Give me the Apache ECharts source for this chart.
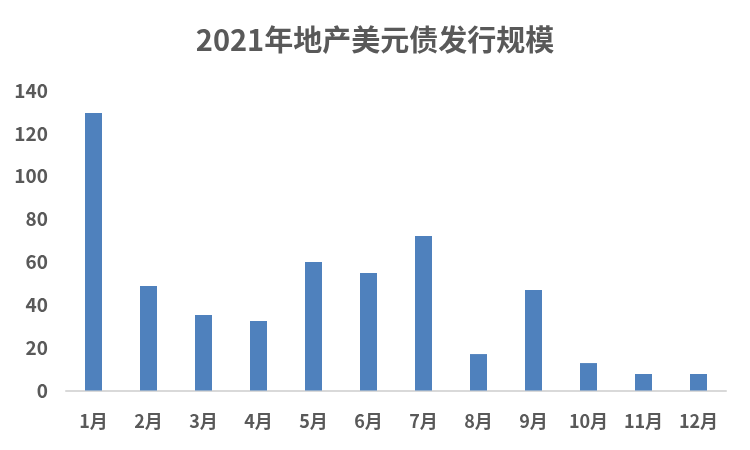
<!DOCTYPE html>
<html>
<head>
<meta charset="utf-8">
<script src="https://cdn.jsdelivr.net/npm/echarts@6/dist/echarts.min.js"></script>
<style>html,body{margin:0;padding:0;background:#fff}#c{width:750px;height:450px}</style>
</head>
<body>
<div id="c"></div>
<script>
const titleText = '2021年地产美元债发行规模';
const categories = ['1月','2月','3月','4月','5月','6月','7月','8月','9月','10月','11月','12月'];
const values = [129.5, 48.8, 35.2, 32.4, 60.0, 54.8, 72.1, 17.0, 46.9, 12.8, 7.7, 7.7];
const yTicks = {min: 0, max: 140, interval: 20};

const font = '"Noto Sans CJK SC", "Microsoft YaHei", sans-serif';
const chart = echarts.init(document.getElementById('c'));
chart.setOption({
  animation: false,
  backgroundColor: '#ffffff',
  title: {
    text: titleText, left: 'center', top: 20,
    textStyle: {fontFamily: font, fontSize: 29, fontWeight: 'bold', color: '#595959'}
  },
  grid: {left: 66, right: 24, top: 90.5, bottom: 59.5, containLabel: false},
  xAxis: {
    type: 'category', data: categories,
    axisLine: {lineStyle: {color: '#d9d9d9', width: 2}},
    axisTick: {show: false},
    axisLabel: {fontFamily: font, fontSize: 18, fontWeight: 'bold', color: '#595959', margin: 22}
  },
  yAxis: {
    type: 'value', min: yTicks.min, max: yTicks.max, interval: yTicks.interval,
    axisLine: {show: false}, axisTick: {show: false},
    splitLine: {show: false},
    axisLabel: {fontFamily: font, fontSize: 19, fontWeight: 'bold', color: '#595959', margin: 18}
  },
  series: [{
    type: 'bar', data: values, barWidth: 17,
    itemStyle: {color: '#4f81bd'}
  }]
});
</script>
</body>
</html>
